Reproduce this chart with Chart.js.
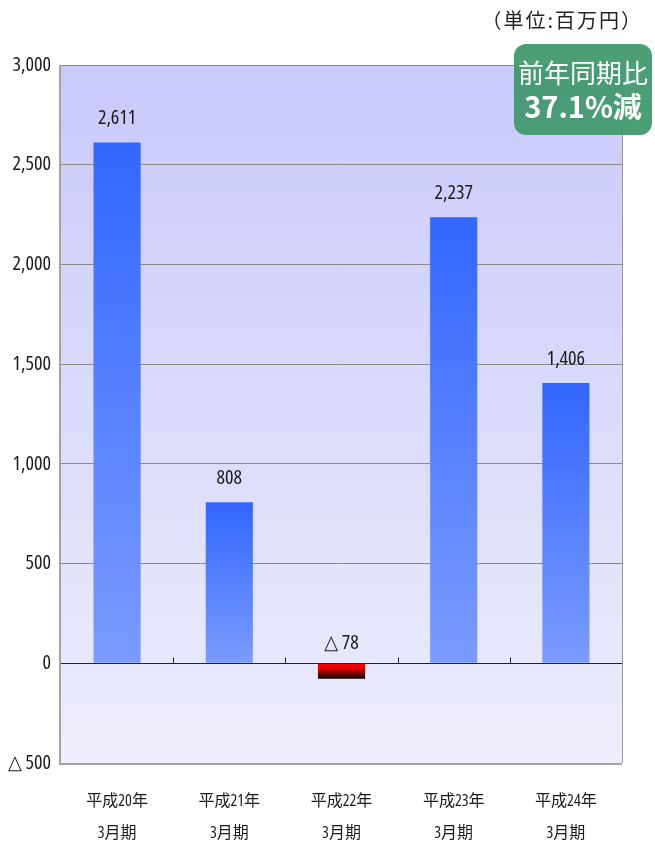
<!DOCTYPE html>
<html><head><meta charset="utf-8">
<script src="https://cdn.jsdelivr.net/npm/chart.js@4"></script>
<style>
html,body{margin:0;padding:0;background:#fff;}
#wrap{position:relative;width:655px;height:842px;}
#unit{position:absolute;right:12px;top:5px;font:20px 'Noto Sans CJK JP',sans-serif;letter-spacing:2px;color:#222;}
#badge{position:absolute;left:514px;top:44px;width:138px;height:91px;border-radius:12px;background:rgba(62,152,106,0.93);color:#fff;text-align:center;font-family:'Noto Sans CJK JP',sans-serif;}
#badge .l1{font-size:26px;line-height:26px;margin-top:15px;}
#badge .l2{font-size:29px;font-weight:bold;line-height:30px;margin-top:5px;}
</style></head>
<body><div id="wrap">
<canvas id="c" width="655" height="842"></canvas>
<div id="unit">（単位:百万円）</div>
<div id="badge"><div class="l1">前年同期比</div><div class="l2">37.1%減</div></div>
</div>
<script>
const categories = [['平成20年','3月期'],['平成21年','3月期'],['平成22年','3月期'],['平成23年','3月期'],['平成24年','3月期']];
const profitValues = [2611, 808, -78, 2237, 1406];
const yMin = -500, yMax = 3000, yStep = 500;

const FAMILY = "'Open Sans','DejaVu Sans','Noto Sans CJK JP',sans-serif";
function fmt(v){
  const a = Math.abs(v).toLocaleString('en-US');
  return v < 0 ? '△ ' + a : a;
}

const bgPlugin = {
  id:'bg',
  beforeDraw(chart){
    const {ctx, chartArea:a} = chart;
    const g = ctx.createLinearGradient(0,a.top,0,a.bottom);
    g.addColorStop(0,'#c9c9fb');
    g.addColorStop(1,'#ededfc');
    ctx.save(); ctx.fillStyle = g; ctx.fillRect(a.left,a.top,a.right-a.left,a.bottom-a.top); ctx.restore();
  },
  afterDatasetsDraw(chart){
    const {ctx, chartArea:a, scales:{x,y}} = chart;
    ctx.save();
    const y0 = Math.round(y.getPixelForValue(0)) + 0.5;
    ctx.strokeStyle = '#222'; ctx.lineWidth = 1;
    ctx.beginPath(); ctx.moveTo(a.left,y0); ctx.lineTo(a.right,y0); ctx.stroke();
    const n = chart.data.labels.length;
    const w = (a.right - a.left)/n;
    ctx.beginPath();
    for(let k=1;k<=n;k++){
      const xx = Math.round(a.left + w*k) + 0.5;
      ctx.moveTo(xx,y0); ctx.lineTo(xx,y0-6);
    }
    ctx.stroke();
    ctx.strokeStyle = '#a3a3a3'; ctx.lineWidth = 2;
    ctx.beginPath(); ctx.moveTo(a.left-1,a.top); ctx.lineTo(a.left-1,a.bottom+1); ctx.lineTo(a.right,a.bottom+1); ctx.stroke();
    ctx.strokeStyle = '#999'; ctx.lineWidth = 1;
    ctx.beginPath(); ctx.moveTo(a.right+0.5,a.top); ctx.lineTo(a.right+0.5,a.bottom); ctx.stroke();
    ctx.fillStyle = '#1a1a1a'; ctx.font = "condensed 20px " + FAMILY; ctx.textAlign='center'; ctx.textBaseline='middle';
    const meta = chart.getDatasetMeta(0);
    meta.data.forEach((el,i)=>{
      const v = chart.data.datasets[0].data[i];
      const top = Math.min(el.y, el.base);
      ctx.fillText(fmt(v), el.x, top - (v < 0 ? 20 : 24));
    });
    ctx.restore();
  }
};

new Chart(document.getElementById('c'), {
  type:'bar',
  data:{
    labels: categories,
    datasets:[{
      data: profitValues,
      backgroundColor(c){
        const chart = c.chart, y = chart.scales && chart.scales.y;
        const v = c.raw;
        const fallback = v<0 ? '#c00' : '#5580ff';
        if(!y || !chart.ctx || typeof v !== 'number') return fallback;
        const p = y.getPixelForValue(v), b = y.getPixelForValue(0);
        if(!isFinite(p) || !isFinite(b) || p === b) return fallback;
        const g = chart.ctx.createLinearGradient(0, Math.min(p,b), 0, Math.max(p,b));
        if(v<0){ g.addColorStop(0,'#ff0000'); g.addColorStop(0.35,'#e00000'); g.addColorStop(1,'#000000'); }
        else { g.addColorStop(0,'#3366ff'); g.addColorStop(1,'#7b9bff'); }
        return g;
      },
      borderWidth:0,
      barPercentage:0.42,
      categoryPercentage:1.0
    }]
  },
  options:{
    responsive:false, animation:false, devicePixelRatio:1,
    layout:{padding:{top:65,right:33,left:0,bottom:0}},
    plugins:{legend:{display:false},tooltip:{enabled:false}},
    scales:{
      x:{
        offset:true,
        grid:{display:false,drawTicks:false},
        border:{display:false},
        ticks:{color:'#1a1a1a',padding:22,font:{family:FAMILY,size:16,weight:'condensed',lineHeight:2.0}},
        afterFit(s){ s.height = 79; }
      },
      y:{
        min:yMin,max:yMax,
        ticks:{stepSize:yStep,color:'#1a1a1a',padding:10,font:{family:FAMILY,size:20,weight:'condensed'},callback:(v)=>fmt(v)},
        grid:{drawTicks:false,color:(c)=> (c.tick && c.tick.value===0) ? 'rgba(0,0,0,0)' : '#8a8a8a',lineWidth:1},
        border:{display:false},
        afterFit(s){ s.width = 61; }
      }
    }
  },
  plugins:[bgPlugin]
});
</script>
</body></html>
